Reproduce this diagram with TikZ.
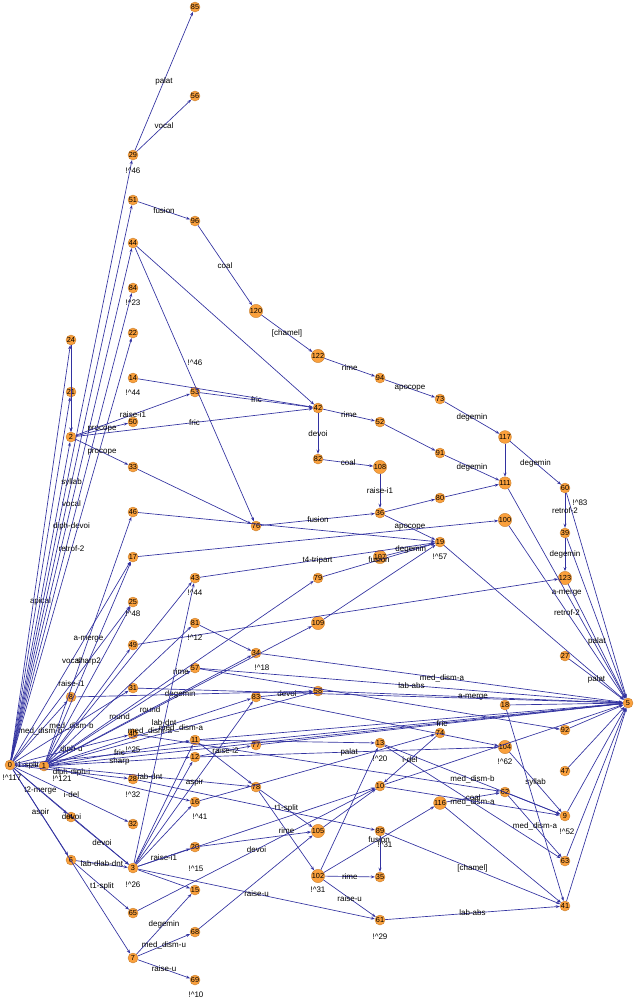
\documentclass[tikz,border=0pt]{standalone}
\usepackage{fontspec}
\setmainfont{Liberation Sans}
\usetikzlibrary{arrows.meta}
\definecolor{edgeblue}{RGB}{50,50,160}
\definecolor{nodeor}{RGB}{250,160,60}
\begin{document}
\begin{tikzpicture}[x=0.75pt,y=-0.75pt,
 gn/.style={circle,fill=nodeor,draw=nodeor!80!black,line width=0.3pt,inner sep=0pt,minimum size=7.5pt,font=\fontsize{5.5}{5.5}\selectfont},
 ed/.style={draw=edgeblue,line width=0.5pt,-{Stealth[length=3pt,width=2.2pt]}},
 el/.style={font=\fontsize{6}{6.5}\selectfont,inner sep=0.5pt,text=black},
 cnt/.style={font=\fontsize{6}{6.5}\selectfont,inner sep=0pt}]
\useasboundingbox (0,0) rectangle (640,1001);
\foreach \n/\x/\y in {0/10/765,1/44/766,2/71/437,3/133/868,4/71/817,5/628/703,6/71/860,7/133/958,8/71/697,9/565/816,10/380/786,11/195/740,12/195/757,13/380/743,14/133/378,15/195/890,16/195/802,17/133/557,18/505/705,19/440/542,20/195/847,21/71/392,22/133/333,24/71/340,25/133/602,27/565/656,28/133/779,29/133/155,31/133/688,32/133/824,33/133/467,34/256/653,35/380/877,36/380/513,39/565/533,40/133/734,41/565/906,42/318/408,43/195/578,44/133/243,46/133/512,47/565/771,49/133/645,50/133/422,51/133/200,52/380/422,53/195/392,56/195/96,57/195/668,58/318/691,60/565/488,61/380/920,62/505/792,63/565/861,65/133/913,68/195/932,69/195/980,73/440/399,74/440/733,76/256/526,77/256/745,78/256/787,79/318/578,80/440/498,81/195/623,82/318/459,83/256/697,84/133/288,85/195/7,89/380/831,91/440/453,92/565/730,94/380/378,96/195/221,100/505/520,102/318/876,104/505/747,105/318/831,107/380/557,108/380/467,109/318/623,111/505/483,116/440/803,117/505/437,120/256/311,122/318/356,123/565/578}
  {\node[gn] (n\n) at (\x,\y) {\n};}
\foreach \s/\t/\l in {0/1/t1-split,0/8/med\_dism-b,0/4/t2-merge,0/6/aspir,0/3/devoi,0/7/,0/2/apical,0/24/,0/21/,0/51/syllab,0/44/vocal,0/84/diph-devoi,0/22/retrof-2,0/17/vocal,0/25/raise-i1,0/31/med\_dism-b,0/40/diph-u,0/28/diph-diph-i,0/32/i-del,0/29/,0/5/,
 2/42/fric,2/50/procope,2/33/procope,2/53/raise-i1,21/2/,24/2/,
 1/46/a-merge,1/17/sharp2,1/25/,1/81/,1/49/,1/57/round,1/34/round,1/83/med\_dism-a,1/58/med\_dism-a,1/11/fric,1/12/sharp,1/78/lab-dnt,1/16/,1/109/degemin,1/79/rime,1/5/,1/43/,
 3/12/,3/16/,3/20/raise-i1,3/15/,3/11/,3/61/raise-u,3/43/lab-dnt,3/83/aspir,3/10/,
 4/3/devoi,6/65/t1-split,6/3/lab-dlab-dnt,65/10/devoi,7/15/degemin,7/68/med\_dism-u,7/69/raise-u,68/105/,20/105/,
 11/5/,11/13/,11/78/,12/77/raise-i2,83/58/devoi,83/104/,57/5/lab-abs,58/5/a-merge,34/5/med\_dism-a,43/19/t4-tripart,
 19/5/,79/19/fusion,107/19/degemin,36/19/apocope,36/80/,80/111/,111/5/a-merge,100/5/retrof-2,39/5/,60/5/,123/5/palat,27/5/palat,18/5/,92/5/,47/5/,9/5/,63/5/,41/5/,
 104/9/syllab,62/9/,62/63/med\_dism-a,116/62/coal,89/41/[chamel],116/41/,13/9/med\_dism-b,13/63/med\_dism-a,10/5/,74/10/i-del,102/116/fusion,102/13/,102/61/raise-u,102/35/rime,78/102/rime,78/105/t1-split,61/41/lab-abs,18/41/,
 42/52/rime,42/82/devoi,82/108/coal,108/36/raise-i1,52/91/,91/111/degemin,117/111/,73/117/degemin,117/60/degemin,94/73/apocope,122/94/rime,120/122/[chamel],96/120/coal,51/96/fusion,29/85/palat,29/56/vocal,44/42/,44/76/,53/42/fric,14/42/,33/76/,46/19/,76/36/fusion,60/39/retrof-2,39/123/degemin,89/35/,10/9/,105/10/,
 49/123/,81/34/,57/92/,12/104/palat,16/74/,31/5/,8/58/,40/62/,28/89/,109/19/,17/100/,77/5/fric}
  {\path[ed] (n\s) -- node[el]{\l} (n\t);}
\node[cnt] (c0) at (12,778) {!\^{}117};
\node[cnt] (c1) at (62,779) {!\^{}121};
\node[cnt] (c29) at (133,171) {!\^{}46};
\node[cnt] (c3) at (133,885) {!\^{}26};
\node[cnt] (c65) at (196,869) {!\^{}15};
\node[cnt] (c69) at (196,995) {!\^{}10};
\node[cnt] (c61) at (380,937) {!\^{}29};
\node[cnt] (c102) at (318,890) {!\^{}31};
\node[cnt] (c35) at (385,845) {!\^{}31};
\node[cnt] (c13) at (380,759) {!\^{}20};
\node[cnt] (c9) at (567,832) {!\^{}52};
\node[cnt] (c60) at (580,503) {!\^{}83};
\node[cnt] (c19) at (440,557) {!\^{}57};
\node[cnt] (c81) at (195,638) {!\^{}12};
\node[cnt] (c34) at (262,668) {!\^{}18};
\node[cnt] (c43) at (195,593) {!\^{}44};
\node[cnt] (c14) at (133,393) {!\^{}44};
\node[cnt] (c40) at (133,750) {!\^{}25};
\node[cnt] (c28) at (133,795) {!\^{}32};
\node[cnt] (c16) at (200,817) {!\^{}41};
\node[cnt] (c84) at (133,303) {!\^{}23};
\node[cnt] (c53b) at (195,363) {!\^{}46};
\node[cnt] (c104) at (505,762) {!\^{}62};
\node[cnt] (c25) at (133,614) {!\^{}48};
\end{tikzpicture}
\end{document}
